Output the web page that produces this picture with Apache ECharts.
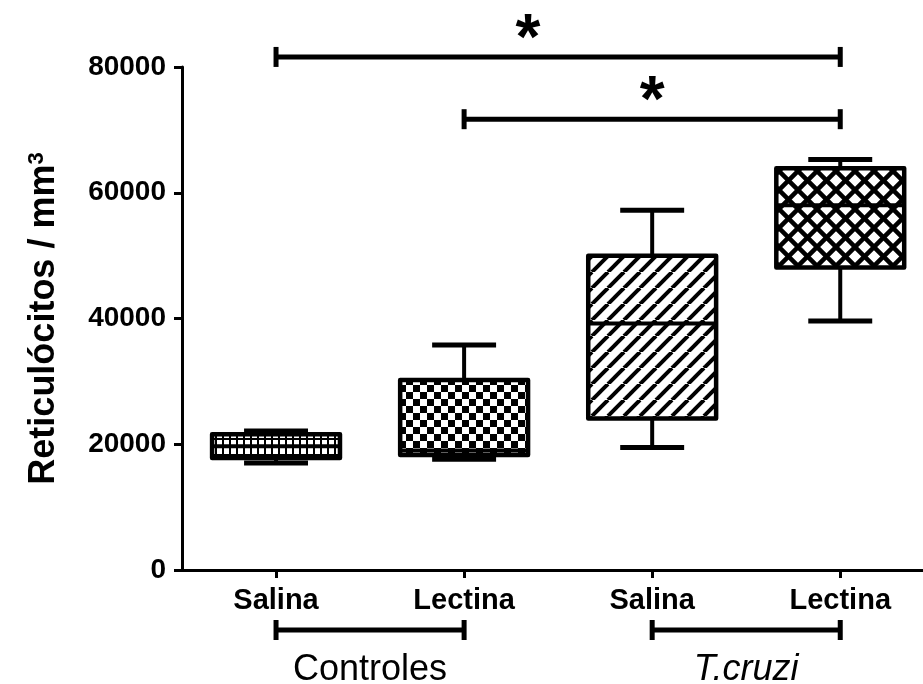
<!DOCTYPE html>
<html>
<head>
<meta charset="utf-8">
<script src="https://cdn.jsdelivr.net/npm/echarts@6/dist/echarts.min.js"></script>
<style>
  html, body { margin: 0; padding: 0; background: #ffffff; }
  #chart { width: 923px; height: 684px; }
</style>
</head>
<body>
<div id="chart"></div>
<script>
// Reticulocyte counts per group (box = quartiles, whiskers = min/max)
const categories  = ['Salina', 'Lectina', 'Salina', 'Lectina'];
const whiskerLow  = [17000, 17600, 19500, 39600];
const quartile1   = [17800, 18300, 24100, 48100];
const median      = [19700, 19000, 39200, 58000];
const quartile3   = [21600, 30200, 50000, 63900];
const whiskerHigh = [22100, 35800, 57200, 65300];
const yTicks      = [0, 20000, 40000, 60000, 80000];

// Treatment groups spanning pairs of boxes
const groups     = ['Controles', 'T.cruzi'];
const groupStart = [0, 2];
const groupEnd   = [1, 3];

// Significance brackets: from box, to box, bracket level, star position
const sigFrom   = [0, 1];
const sigTo     = [3, 3];
const sigLevel  = [81600, 71700];
const sigStarX  = [1.34, 2.0];
const sigLabel  = ['*', '*'];

const FONT = '"Liberation Sans", Arial, Helvetica, sans-serif';

function makePattern(w, h, draw) {
  const c = document.createElement('canvas');
  c.width = w; c.height = h;
  const g = c.getContext('2d');
  g.fillStyle = '#ffffff';
  g.fillRect(0, 0, w, h);
  g.fillStyle = '#000000';
  g.strokeStyle = '#000000';
  draw(g, w, h);
  return { image: c, repeat: 'repeat' };
}

// fill patterns: small grid, checkerboard, diagonal hatch, crosshatch
const fills = [
  makePattern(7, 8, (g, w, h) => { g.fillRect(0, h - 2, w, 2); g.fillRect(w - 2, 0, 2, h); }),
  makePattern(14, 14, (g) => { g.fillRect(0, 0, 7, 7); g.fillRect(7, 7, 7, 7); }),
  makePattern(16, 16, (g, s) => {
    g.lineWidth = 4;
    for (const o of [-s, 0, s]) { g.beginPath(); g.moveTo(o, s); g.lineTo(o + s, 0); g.stroke(); }
  }),
  makePattern(19, 19, (g, s) => {
    g.lineWidth = 4.5;
    for (const o of [-s, 0, s]) {
      g.beginPath(); g.moveTo(o, s); g.lineTo(o + s, 0); g.stroke();
      g.beginPath(); g.moveTo(o, 0); g.lineTo(o + s, s); g.stroke();
    }
  })
];

const boxData = categories.map((_, i) => [i, whiskerLow[i], quartile1[i], median[i], quartile3[i], whiskerHigh[i]]);
const sigData = sigFrom.map((f, i) => [f, sigTo[i], sigLevel[i], sigStarX[i], i]);
const groupData = groups.map((_, i) => [groupStart[i], groupEnd[i], i]);

function line(x1, y1, x2, y2, w) {
  return { type: 'line', shape: { x1, y1, x2, y2 }, style: { stroke: '#000000', lineWidth: w || 4, lineCap: 'butt' } };
}

const chart = echarts.init(document.getElementById('chart'), null, { renderer: 'canvas' });

chart.setOption({
  animation: false,
  backgroundColor: '#ffffff',
  grid: { left: 182, right: 0, top: 67, bottom: 114, containLabel: false },
  xAxis: {
    type: 'value',
    min: -0.5,
    max: 3.44,
    splitLine: { show: false },
    axisLine: { show: true, lineStyle: { color: '#000', width: 3 } },
    axisTick: { show: true, customValues: [0, 1, 2, 3], length: 8, lineStyle: { color: '#000', width: 3 } },
    axisLabel: {
      customValues: [0, 1, 2, 3],
      formatter: (v) => categories[Math.round(v)] || '',
      color: '#000', fontFamily: FONT, fontWeight: 'bold', fontSize: 29, margin: 16
    }
  },
  yAxis: {
    type: 'value',
    min: 0,
    max: 80000,
    interval: 20000,
    splitLine: { show: false },
    axisLine: { show: true, onZero: false, lineStyle: { color: '#000', width: 3 } },
    axisTick: { show: true, length: 8, lineStyle: { color: '#000', width: 3 } },
    axisLabel: {
      formatter: (v) => yTicks.indexOf(v) >= 0 ? String(v) : '',
      color: '#000', fontFamily: FONT, fontWeight: 'bold', fontSize: 28, margin: 16
    },
    name: '{t|Reticulócitos / mm}{s|3}',
    nameLocation: 'middle',
    nameRotate: 90,
    nameGap: 120,
    nameTextStyle: {
      rich: {
        t: { color: '#000', fontFamily: FONT, fontWeight: 'bold', fontSize: 36 },
        s: { color: '#000', fontFamily: FONT, fontWeight: 'bold', fontSize: 22, verticalAlign: 'top' }
      }
    }
  },
  series: [
    {
      type: 'custom',
      name: 'boxes',
      data: boxData,
      encode: { x: 0, y: [1, 5] },
      renderItem: (params, api) => {
        const i = api.value(0);
        const band = api.size([1, 0])[0];
        const half = band * 0.34;
        const cap = band * 0.17;
        const x = api.coord([i, 0])[0];
        const y = (k) => api.coord([i, api.value(k)])[1];
        const yMin = y(1), yQ1 = y(2), yMed = y(3), yQ3 = y(4), yMax = y(5);
        return {
          type: 'group',
          children: [
            line(x, yMax, x, yQ3, 4),
            line(x, yQ1, x, yMin, 4),
            line(x - cap, yMax, x + cap, yMax, 5),
            line(x - cap, yMin, x + cap, yMin, 5),
            {
              type: 'rect',
              shape: { x: x - half, y: yQ3, width: half * 2, height: yQ1 - yQ3 },
              style: { fill: fills[i], stroke: '#000', lineWidth: 4.5, lineJoin: 'round' }
            },
            line(x - half, yMed, x + half, yMed, 4)
          ]
        };
      }
    },
    {
      type: 'custom',
      name: 'significance',
      data: sigData,
      clip: false,
      encode: { x: [0, 1], y: 2 },
      renderItem: (params, api) => {
        const a = api.coord([api.value(0), api.value(2)]);
        const b = api.coord([api.value(1), api.value(2)]);
        const s = api.coord([api.value(3), api.value(2)]);
        return {
          type: 'group',
          children: [
            line(a[0], a[1], b[0], b[1], 5),
            line(a[0], a[1] - 10, a[0], a[1] + 10, 5),
            line(b[0], b[1] - 10, b[0], b[1] + 10, 5),
            {
              type: 'text',
              style: {
                x: s[0], y: s[1] - 16,
                text: sigLabel[api.value(4)],
                fill: '#000', font: 'bold 64px ' + FONT,
                align: 'center', verticalAlign: 'middle'
              }
            }
          ]
        };
      }
    },
    {
      type: 'custom',
      name: 'groups',
      data: groupData,
      clip: false,
      encode: { x: [0, 1] },
      renderItem: (params, api) => {
        const a = api.coord([api.value(0), 0]);
        const b = api.coord([api.value(1), 0]);
        const yb = a[1] + 60;
        const idx = api.value(2);
        return {
          type: 'group',
          children: [
            line(a[0], yb, b[0], yb, 5),
            line(a[0], yb - 10, a[0], yb + 10, 5),
            line(b[0], yb - 10, b[0], yb + 10, 5),
            {
              type: 'text',
              style: {
                x: (a[0] + b[0]) / 2, y: yb + 40,
                text: groups[idx],
                fill: '#000',
                font: (idx === 1 ? 'italic ' : '') + '36px ' + FONT,
                align: 'center', verticalAlign: 'middle'
              }
            }
          ]
        };
      }
    }
  ]
});
</script>
</body>
</html>
